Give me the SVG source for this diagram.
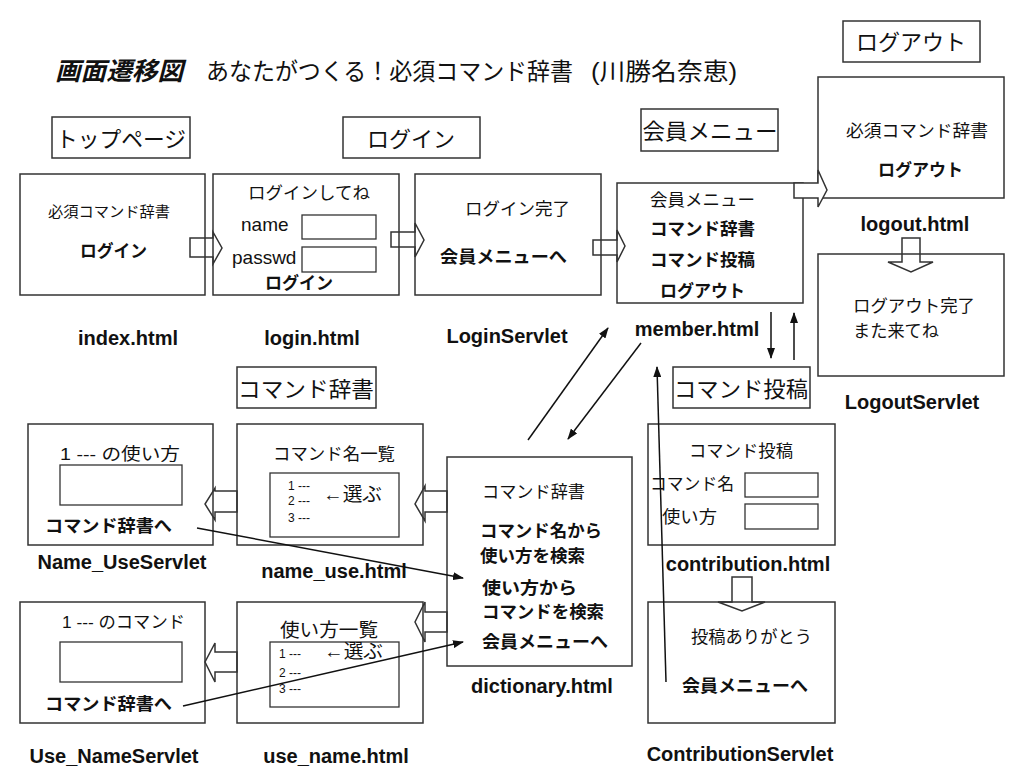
<svg xmlns="http://www.w3.org/2000/svg" width="1024" height="768" viewBox="0 0 1024 768">
<defs>
<style>
text{font-family:"Liberation Sans","Noto Sans CJK JP",sans-serif;fill:#111}
.box{fill:#fff;stroke:#333;stroke-width:1.5}
.in{fill:#fff;stroke:#333;stroke-width:1.3}
.b{font-weight:bold}
.j{font-size:17px}
.jb{font-size:17.5px;font-weight:bold}
.lbl{font-size:20px;font-weight:bold;text-anchor:middle}
.sec{font-size:22px;text-anchor:middle}
.sm{font-size:12px}
.c{text-anchor:middle}
.blk{fill:none;stroke:#333;stroke-width:1.5}
.blkw{fill:#fff;stroke:#333;stroke-width:1.5}
.ln{fill:none;stroke:#111;stroke-width:1.5;marker-end:url(#ah)}
</style>
<marker id="ah" markerWidth="11" markerHeight="8" refX="10" refY="4" orient="auto" markerUnits="userSpaceOnUse">
<path d="M0,0 L11,4 L0,8 z" fill="#111"/>
</marker>
</defs>
<rect width="1024" height="768" fill="#fff"/>

<g id="title">
<text x="55" y="80" style="font-size:25px;font-weight:bold;font-style:italic" textLength="128" lengthAdjust="spacingAndGlyphs">画面遷移図</text>
<text x="206" y="80" style="font-size:23.5px" textLength="367" lengthAdjust="spacingAndGlyphs">あなたがつくる！必須コマンド辞書</text>
<text x="591" y="80" style="font-size:23.5px" textLength="146" lengthAdjust="spacingAndGlyphs">(川勝名奈恵)</text>
</g>

<g id="sec-top"><rect class="box" x="52" y="117" width="138" height="41"/><text class="sec" x="121" y="147" textLength="130" lengthAdjust="spacingAndGlyphs">トップページ</text></g>
<g id="sec-login"><rect class="box" x="343" y="117" width="137" height="41"/><text class="sec" x="411" y="147">ログイン</text></g>
<g id="sec-member"><rect class="box" x="641" y="109" width="137" height="42"/><text class="sec" x="710" y="139" textLength="135" lengthAdjust="spacingAndGlyphs">会員メニュー</text></g>
<g id="sec-logout"><rect class="box" x="843" y="21" width="137" height="41"/><text class="sec" x="911" y="50">ログアウト</text></g>
<g id="sec-dict"><rect class="box" x="237" y="367" width="139" height="41"/><text class="sec" x="306" y="397" textLength="136" lengthAdjust="spacingAndGlyphs">コマンド辞書</text></g>
<g id="sec-contrib"><rect class="box" x="673" y="367" width="137" height="41"/><text class="sec" x="741" y="397" textLength="134" lengthAdjust="spacingAndGlyphs">コマンド投稿</text></g>

<g id="index">
<rect class="box" x="20" y="174" width="185" height="121"/>
<text x="48" y="217" style="font-size:15px" textLength="122" lengthAdjust="spacingAndGlyphs">必須コマンド辞書</text>
<text class="jb" x="80" y="257" textLength="67" lengthAdjust="spacingAndGlyphs">ログイン</text>
<text class="lbl" x="128" y="345">index.html</text>
</g>

<g id="login">
<rect class="box" x="213" y="174" width="186" height="121"/>
<text class="j" x="248" y="199" textLength="122" lengthAdjust="spacingAndGlyphs">ログインしてね</text>
<text x="241" y="231" style="font-size:19px">name</text>
<rect class="in" x="302" y="215" width="74" height="24"/>
<text x="232" y="264" style="font-size:19px">passwd</text>
<rect class="in" x="302" y="247" width="74" height="25"/>
<text class="jb" x="265" y="289" textLength="68" lengthAdjust="spacingAndGlyphs">ログイン</text>
<text class="lbl" x="312" y="345">login.html</text>
</g>

<g id="loginservlet">
<rect class="box" x="415" y="174" width="186" height="121"/>
<text class="j" x="465" y="215" textLength="105" lengthAdjust="spacingAndGlyphs">ログイン完了</text>
<text class="jb" x="440" y="263" textLength="127" lengthAdjust="spacingAndGlyphs">会員メニューへ</text>
<text class="lbl" x="507" y="343">LoginServlet</text>
</g>

<g id="member">
<rect class="box" x="617" y="183" width="186" height="120"/>
<text class="j" x="650" y="206" textLength="105" lengthAdjust="spacingAndGlyphs">会員メニュー</text>
<text class="jb" x="650" y="235" textLength="105" lengthAdjust="spacingAndGlyphs">コマンド辞書</text>
<text class="jb" x="650" y="266" textLength="105" lengthAdjust="spacingAndGlyphs">コマンド投稿</text>
<text class="jb" x="660" y="297" textLength="85" lengthAdjust="spacingAndGlyphs">ログアウト</text>
<text class="lbl" x="697" y="336">member.html</text>
</g>

<g id="logout">
<rect class="box" x="818" y="77" width="186" height="121"/>
<text class="j" x="846" y="137" textLength="142" lengthAdjust="spacingAndGlyphs">必須コマンド辞書</text>
<text class="jb" x="878" y="176" textLength="85" lengthAdjust="spacingAndGlyphs">ログアウト</text>
<text class="lbl" x="915" y="231">logout.html</text>
</g>

<g id="logoutservlet">
<rect class="box" x="818" y="254" width="186" height="122"/>
<text class="j" x="853" y="312" textLength="122" lengthAdjust="spacingAndGlyphs">ログアウト完了</text>
<text class="j" x="853" y="337" textLength="86" lengthAdjust="spacingAndGlyphs">また来てね</text>
<text class="lbl" x="912" y="409">LogoutServlet</text>
</g>

<g id="name_useservlet">
<rect class="box" x="28" y="424" width="185" height="121"/>
<text class="j" x="60" y="460" textLength="120" lengthAdjust="spacingAndGlyphs">1 --- の使い方</text>
<rect class="in" x="60" y="465" width="122" height="40"/>
<text class="jb" x="45" y="532" textLength="127" lengthAdjust="spacingAndGlyphs">コマンド辞書へ</text>
<text class="lbl" x="122" y="569">Name_UseServlet</text>
</g>

<g id="name_use">
<rect class="box" x="237" y="424" width="186" height="121"/>
<text class="j" x="273" y="460" textLength="122" lengthAdjust="spacingAndGlyphs">コマンド名一覧</text>
<rect class="in" x="270" y="473" width="129" height="64"/>
<text class="sm" x="288" y="490">1  ---</text>
<text class="sm" x="288" y="505">2  ---</text>
<text class="sm" x="288" y="522">3  ---</text>
<text x="323" y="501" style="font-size:19px" textLength="59" lengthAdjust="spacingAndGlyphs">←選ぶ</text>
<text class="lbl" x="334" y="578">name_use.html</text>
</g>

<g id="dictionary">
<rect class="box" x="447" y="457" width="185" height="209"/>
<text class="j" x="482" y="498" textLength="103" lengthAdjust="spacingAndGlyphs">コマンド辞書</text>
<text class="jb" x="480" y="537" textLength="122" lengthAdjust="spacingAndGlyphs">コマンド名から</text>
<text class="jb" x="480" y="562" textLength="105" lengthAdjust="spacingAndGlyphs">使い方を検索</text>
<text class="jb" x="482" y="594" textLength="95" lengthAdjust="spacingAndGlyphs">使い方から</text>
<text class="jb" x="482" y="618" textLength="122" lengthAdjust="spacingAndGlyphs">コマンドを検索</text>
<text class="jb" x="482" y="648" textLength="126" lengthAdjust="spacingAndGlyphs">会員メニューへ</text>
<text class="lbl" x="542" y="693">dictionary.html</text>
</g>

<g id="contribution">
<rect class="box" x="648" y="424" width="187" height="121"/>
<text class="j" x="689" y="457" textLength="104" lengthAdjust="spacingAndGlyphs">コマンド投稿</text>
<text class="j" x="650" y="490" textLength="84" lengthAdjust="spacingAndGlyphs">コマンド名</text>
<rect class="in" x="745" y="473" width="73" height="24"/>
<text class="j" x="662" y="523" textLength="55" lengthAdjust="spacingAndGlyphs">使い方</text>
<rect class="in" x="745" y="504" width="73" height="25"/>
<text class="lbl" x="748" y="571">contribution.html</text>
</g>

<g id="contributionservlet">
<rect class="box" x="648" y="602" width="187" height="121"/>
<text class="j" x="691" y="643" textLength="121" lengthAdjust="spacingAndGlyphs">投稿ありがとう</text>
<text class="jb" x="682" y="692" textLength="126" lengthAdjust="spacingAndGlyphs">会員メニューへ</text>
<text class="lbl" x="740" y="761">ContributionServlet</text>
</g>

<g id="use_nameservlet">
<rect class="box" x="20" y="602" width="185" height="121"/>
<text class="j" x="62" y="628" textLength="123" lengthAdjust="spacingAndGlyphs">1 --- のコマンド</text>
<rect class="in" x="60" y="642" width="122" height="40"/>
<text class="jb" x="45" y="710" textLength="127" lengthAdjust="spacingAndGlyphs">コマンド辞書へ</text>
<text class="lbl" x="114" y="763">Use_NameServlet</text>
</g>

<g id="use_name">
<rect class="box" x="237" y="602" width="186" height="121"/>
<text x="280" y="637" style="font-size:19px" textLength="98" lengthAdjust="spacingAndGlyphs">使い方一覧</text>
<rect class="in" x="270" y="642" width="129" height="65"/>
<text class="sm" x="279" y="658">1   ---</text>
<text class="sm" x="279" y="677">2   ---</text>
<text class="sm" x="279" y="693">3   ---</text>
<text x="324" y="658" style="font-size:19px" textLength="59" lengthAdjust="spacingAndGlyphs">←選ぶ</text>
<text class="lbl" x="336" y="763">use_name.html</text>
</g>

<g id="connectors">
<polygon class="blk" points="190,238 213,238 213,232 222,248 213,264 213,257 190,257"/>
<polygon class="blk" points="391,232 415,232 415,223 424,240 415,257 415,247 391,247"/>
<polygon class="blk" points="593,240 617,240 617,230 625,246 617,262 617,255 593,255"/>
<polygon class="blkw" points="794,183 818,183 818,170 827,190 818,207 818,198 794,198"/>
<polygon class="blk" points="902,238 920,238 920,262 933,262 911,272 888,262 902,262"/>
<polygon class="blk" points="732,577 752,577 752,602 765,602 742,611 718,602 732,602"/>
<polygon class="blk" points="237,491 215,491 215,488 205,504 215,520 215,512 237,512"/>
<polygon class="blk" points="447,491 425,491 425,486 415,504 425,521 425,512 447,512"/>
<polygon class="blk" points="237,652 215,652 215,643 205,662 215,682 215,672 237,672"/>
<polygon class="blk" points="447,612 425,612 425,602 415,622 425,642 425,632 447,632"/>
<line class="ln" x1="197" y1="528" x2="463" y2="578"/>
<line class="ln" x1="183" y1="706" x2="463" y2="642"/>
<line class="ln" x1="528" y1="440" x2="608" y2="328"/>
<line class="ln" x1="641" y1="343" x2="568" y2="439"/>
<line class="ln" x1="666" y1="682" x2="657" y2="367"/>
<line class="ln" x1="771" y1="312" x2="771" y2="358"/>
<line class="ln" x1="794" y1="360" x2="794" y2="313"/>
</g>
</svg>
